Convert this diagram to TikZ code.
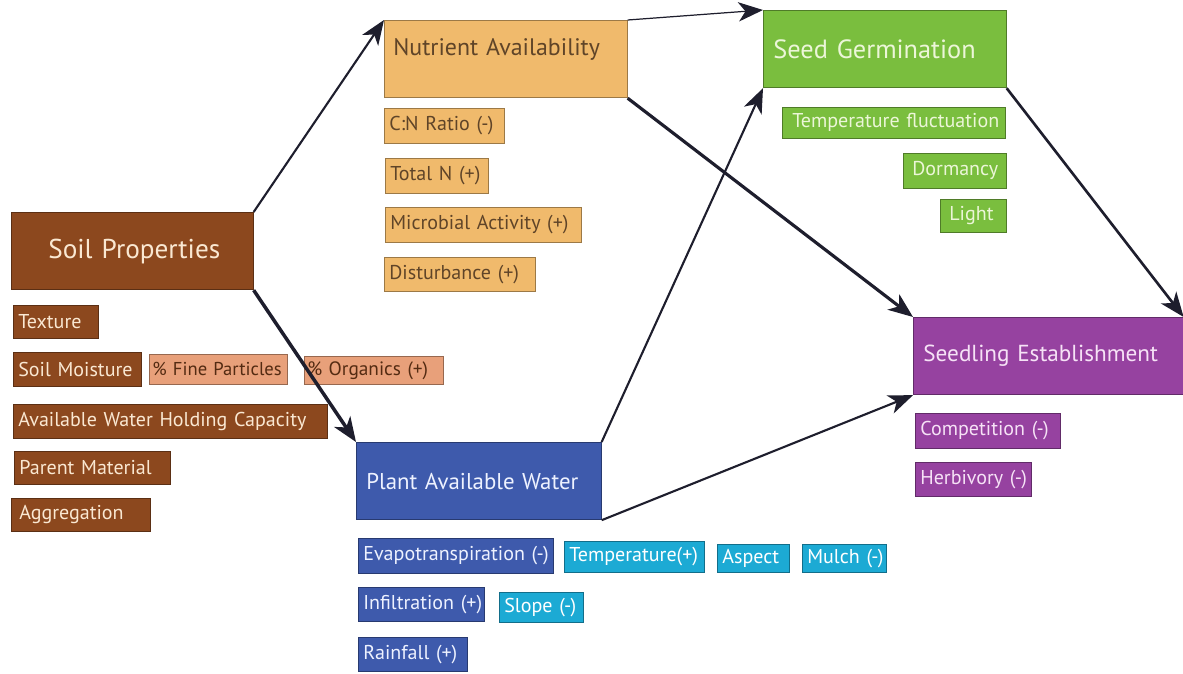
\documentclass[tikz,border=0pt]{standalone}
\usepackage{fontspec}
\setmainfont{PT Sans}
\usetikzlibrary{arrows,arrows.meta}
\usetikzlibrary{calc}
\definecolor{pfeil}{RGB}{30,30,45}
\definecolor{soil}{RGB}{140,72,30}
\definecolor{soiltext}{RGB}{250,232,210}
\definecolor{salmon}{RGB}{232,160,122}
\definecolor{nutri}{RGB}{240,186,108}
\definecolor{nutritext}{RGB}{95,68,40}
\definecolor{germ}{RGB}{122,190,62}
\definecolor{germtext}{RGB}{236,246,216}
\definecolor{seedling}{RGB}{150,66,160}
\definecolor{seedlingtext}{RGB}{246,226,246}
\definecolor{water}{RGB}{62,90,172}
\definecolor{watertext}{RGB}{238,242,255}
\definecolor{cyanbox}{RGB}{28,170,212}

\begin{document}
\begin{tikzpicture}[x=0.02cm, y=-0.02cm,
	mainbox/.style={draw=#1!65!black, fill=#1, anchor=north west, inner xsep=0.2cm, inner ysep=0pt, minimum height=1.55cm, align=left, font=\fontsize{13.6}{17}\selectfont, execute at begin node=\hbox\bgroup, execute at end node=\egroup},
	smallbox/.style={draw=#1!65!black, fill=#1, anchor=north west, inner xsep=0.1cm, inner ysep=0pt, minimum height=0.68cm, align=left, font=\fontsize{11.4}{14}\selectfont, execute at begin node=\hbox\bgroup, execute at end node=\egroup},
	link/.style={pfeil, line width=#1, -{Stealth[length=14pt,width=11pt,inset=4pt]}},
	link/.default=1pt]

	\useasboundingbox (0,0) rectangle (1183,673);

	% main boxes
	\node[mainbox=soil, text=soiltext, text width=3.36cm, font=\fontsize{15.5}{18}\selectfont, inner xsep=0.74cm] (soilprop) at (11,212) {Soil Properties};
	\node[mainbox=nutri, text=nutritext, text width=4.5cm, text height=0.7cm, text depth=0.85cm, inner xsep=0.18cm] (nutrient) at (384,20) {Nutrient Availability};
	\node[mainbox=germ, text=germtext, text width=4.46cm, font=\fontsize{15}{18}\selectfont] (germination) at (763,10) {Seed Germination};
	\node[mainbox=seedling, text=seedlingtext, text width=5.0cm, font=\fontsize{13.2}{16}\selectfont] (establish) at (913,317) {Seedling Establishment};
	\node[mainbox=water, text=watertext, text width=4.5cm, font=\fontsize{13}{16}\selectfont] (water) at (356,442) {Plant Available Water};

	% soil factors
	\node[smallbox=soil, text=soiltext, text width=1.5cm, minimum height=0.66cm] (texture) at (13,305) {Texture};
	\node[smallbox=soil, text=soiltext, text width=2.36cm] (moisture) at (13,352) {Soil Moisture};
	\node[smallbox=salmon, text=soil!60!black, text width=2.64cm, minimum height=0.6cm, inner xsep=0.06cm, font=\fontsize{10.6}{13}\selectfont] (fines) at (149,354) {\% Fine Particles};
	\node[smallbox=salmon, text=soil!60!black, text width=2.66cm, minimum height=0.56cm, inner xsep=0.06cm, font=\fontsize{11}{13}\selectfont] (organics) at (304,356) {\% Organics (+)};
	\node[smallbox=soil, text=soiltext, text width=6.08cm] (holding) at (13,404) {Available Water Holding Capacity};
	\node[smallbox=soil, text=soiltext, text width=2.92cm, minimum height=0.66cm] (parent) at (14,451) {Parent Material};
	\node[smallbox=soil, text=soiltext, minimum height=0.66cm, inner xsep=0.16cm, text width=2.46cm] (aggregation) at (11,498) {Aggregation};

	% nutrient factors
	\node[smallbox=nutri, text=nutritext, text width=2.2cm, minimum height=0.7cm] (cnratio) at (384,108) {C:N Ratio (-)};
	\node[smallbox=nutri, text=nutritext, text width=1.86cm, minimum height=0.7cm] (totaln) at (385,158) {Total N (+)};
	\node[smallbox=nutri, text=nutritext, text width=3.72cm, minimum height=0.7cm] (microbial) at (385,207) {Microbial Activity (+)};
	\node[smallbox=nutri, text=nutritext, text width=2.82cm] (disturb) at (384,257) {Disturbance (+)};

	% germination factors
	\node[smallbox=germ, text=germtext, minimum height=0.62cm, inner xsep=0.2cm, text width=4.06cm] (fluct) at (782,107) {Temperature fluctuation};
	\node[smallbox=germ, text=germtext, text width=1.7cm, minimum height=0.7cm, inner xsep=0.18cm] (dormancy) at (903,153) {Dormancy};
	\node[smallbox=germ, text=germtext, text width=0.96cm, minimum height=0.66cm, inner xsep=0.18cm] (light) at (940,199) {Light};

	% establishment factors
	\node[smallbox=seedling, text=seedlingtext, text width=2.7cm, minimum height=0.7cm] (competition) at (915,413) {Competition (-)};
	\node[smallbox=seedling, text=seedlingtext, text width=2.12cm] (herbivory) at (915,462) {Herbivory (-)};

	% water factors
	\node[smallbox=water, text=watertext, text width=3.7cm, minimum height=0.7cm] (evapo) at (358,538) {Evapotranspiration (-)};
	\node[smallbox=cyanbox, text=white, text width=2.6cm, minimum height=0.62cm] (temp) at (564,541) {Temperature(+)};
	\node[smallbox=cyanbox, text=white, text width=1.24cm, minimum height=0.56cm] (aspect) at (717,544) {Aspect};
	\node[smallbox=cyanbox, text=white, text width=1.48cm, minimum height=0.56cm] (mulch) at (802,544) {Mulch (-)};
	\node[smallbox=water, text=watertext, text width=2.32cm] (infiltration) at (358,587) {Infiltration (+)};
	\node[smallbox=cyanbox, text=white, text width=1.48cm, minimum height=0.6cm] (slope) at (499,592) {Slope (-)};
	\node[smallbox=water, text=watertext, text width=1.98cm] (rainfall) at (358,637) {Rainfall (+)};

	% arrows
	\draw[link=1.2pt] (soilprop.north east) -- (nutrient.north west);
	\draw[link=2pt] (soilprop.south east) -- (water.north west);
	\draw[link=0.7pt] (nutrient.north east) -- (germination.north west);
	\draw[link=1.8pt] (nutrient.south east) -- (establish.north west);
	\draw[link=1.2pt] (water.north east) -- (germination.south west);
	\draw[link=1.2pt] (water.south east) -- (establish.south west);
	\draw[link=1.5pt] (germination.south east) -- (establish.north east);

\end{tikzpicture}
\end{document}
